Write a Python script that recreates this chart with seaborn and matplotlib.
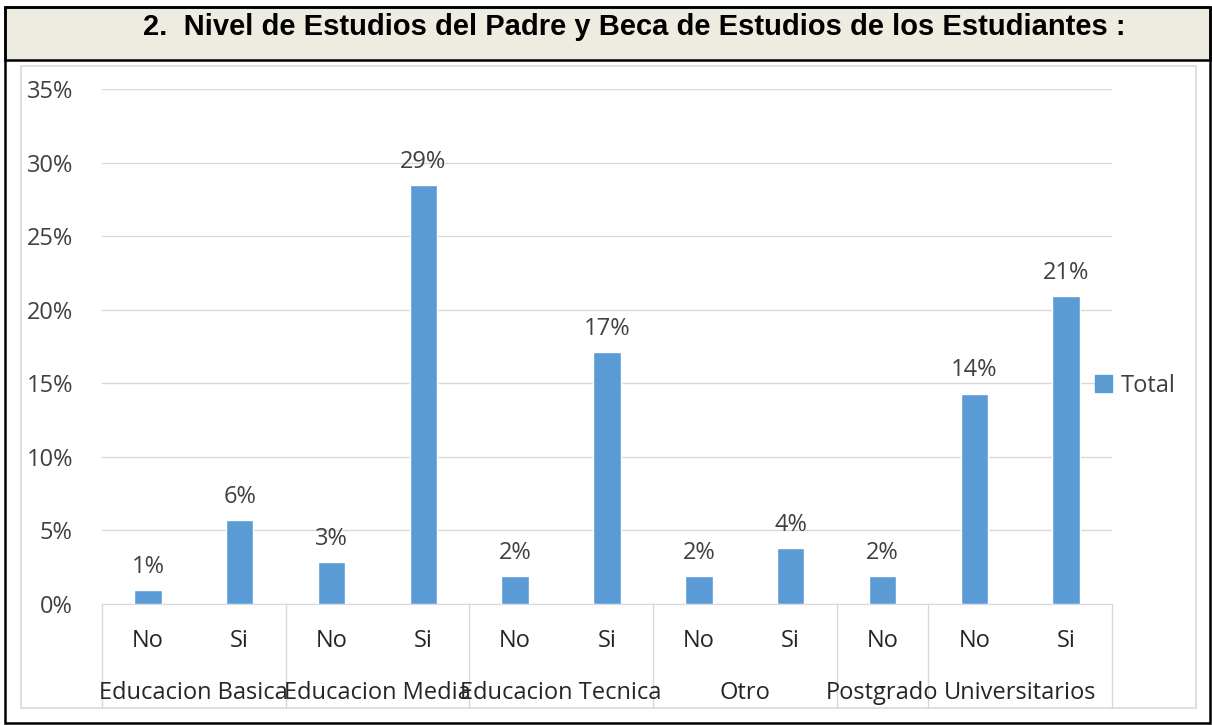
import pandas as pd
import matplotlib
matplotlib.use("Agg")
import matplotlib.pyplot as plt
import matplotlib.patches as mpatches
import matplotlib.transforms as mtransforms
import seaborn as sns

# datos (porcentaje)
nivel = ["Educacion Basica", "Educacion Basica", "Educacion Media", "Educacion Media",
         "Educacion Tecnica", "Educacion Tecnica", "Otro", "Otro", "Postgrado",
         "Universitarios", "Universitarios"]
beca = ["No", "Si", "No", "Si", "No", "Si", "No", "Si", "No", "No", "Si"]
valores = [0.95, 5.7, 2.85, 28.5, 1.9, 17.1, 1.9, 3.8, 1.9, 14.3, 20.9]
etiquetas = ["1%", "6%", "3%", "29%", "2%", "17%", "2%", "4%", "2%", "14%", "21%"]
titulo = "2.  Nivel de Estudios del Padre y Beca de Estudios de los Estudiantes :"

df = pd.DataFrame({"nivel": nivel, "beca": beca, "valor": valores})
df["pos"] = df["nivel"] + "|" + df["beca"]

sns.set_style("white")
plt.rcParams["font.family"] = ["Open Sans", "DejaVu Sans"]

W, H = 1212, 725
fig = plt.figure(figsize=(W / 100, H / 100), dpi=100)

def fx(px):
    return px / W

def fy(py):
    return 1 - py / H

# marco exterior y banda del titulo
fig.patches.append(mpatches.Rectangle((fx(5), fy(60)), fx(1205), 53 / H, transform=fig.transFigure,
                                      facecolor="#EEECE1", edgecolor="black", linewidth=1.8))
fig.patches.append(mpatches.Rectangle((fx(5), fy(723)), fx(1205), 716 / H, transform=fig.transFigure,
                                      facecolor="none", edgecolor="black", linewidth=1.8))
fig.patches.append(mpatches.Rectangle((fx(21), fy(708)), fx(1175), 642 / H, transform=fig.transFigure,
                                      facecolor="none", edgecolor="#D9D9D9", linewidth=1.2))
fig.text(fx(634), fy(27), titulo, ha="center", va="center", fontsize=21, fontweight="bold",
         color="black", family=["Liberation Sans", "DejaVu Sans"])

ax = fig.add_axes([fx(102), fy(604), fx(1010), (604 - 89) / H])
sns.barplot(data=df, x="pos", y="valor", color="#5B9BD5", width=0.3, saturation=1, ax=ax)

ax.set_ylim(0, 35)
ax.set_yticks(range(0, 36, 5))
ax.set_yticklabels([f"{v}%" for v in range(0, 36, 5)], fontsize=17, color="#404040")
ax.tick_params(axis="y", length=0, pad=21)
ax.set_xlim(-0.5, len(df) - 0.5)
ax.set_xticks([])
ax.set_xlabel("")
ax.set_ylabel("")
ax.yaxis.grid(True, color="#D9D9D9", linewidth=1)
ax.set_axisbelow(True)
for s in ["top", "right", "left"]:
    ax.spines[s].set_visible(False)
ax.spines["bottom"].set_color("#D9D9D9")

ax.bar_label(ax.containers[0], labels=etiquetas, padding=8, fontsize=17, color="#404040")

# eje x jerarquico
trans = mtransforms.blended_transform_factory(ax.transData, ax.transAxes)
hgt = (604 - 89)
for i, b in enumerate(beca):
    ax.text(i, -(641 - 604) / hgt, b, transform=trans, ha="center", va="center",
            fontsize=17, color="#262626")

grupos = list(dict.fromkeys(nivel))
bordes = [-0.5]
for g in grupos:
    idx = [i for i, n in enumerate(nivel) if n == g]
    ax.text((idx[0] + idx[-1]) / 2, -(693 - 604) / hgt, g, transform=trans, ha="center",
            va="center", fontsize=17, color="#262626")
    bordes.append(idx[-1] + 0.5)
for b in bordes:
    ax.plot([b, b], [0, -(708 - 604) / hgt], transform=trans, color="#D9D9D9",
            linewidth=1, clip_on=False)

# leyenda
handle = mpatches.Patch(color="#5B9BD5", label="Total")
fig.legend(handles=[handle], loc="center left", bbox_to_anchor=(fx(1074), fy(386)),
           frameon=False, fontsize=17, handlelength=0.7, handleheight=0.7, handletextpad=0.4,
           labelcolor="#404040")

fig.savefig("out.png", dpi=100)
